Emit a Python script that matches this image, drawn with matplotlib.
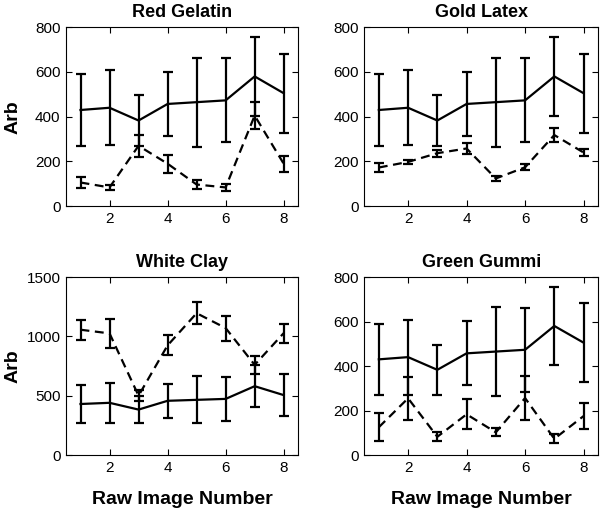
import matplotlib
matplotlib.use("Agg")
import matplotlib.pyplot as plt
import numpy as np

plt.rcParams['font.family'] = ['Liberation Sans', 'DejaVu Sans']

x = [1, 2, 3, 4, 5, 6, 7, 8]

# reference (solid) series, same in all panels
ref_mean = [430, 440, 383, 457, 465, 473, 580, 505]
ref_err = [160, 168, 113, 144, 199, 188, 177, 177]

titles = ["Red Gelatin", "Gold Latex", "White Clay", "Green Gummi"]

red_mean = [106, 84, 270, 190, 97, 84, 405, 190]
red_err = [23, 13, 48, 41, 20, 15, 60, 36]

gold_mean = [173, 198, 237, 258, 124, 174, 318, 240]
gold_err = [18, 10, 16, 23, 12, 13, 30, 15]

white_mean = [1056, 1025, 500, 924, 1195, 1070, 760, 1027]
white_err = [84, 124, 45, 84, 92, 105, 75, 80]

green_mean = [125, 255, 82, 183, 102, 256, 73, 175]
green_err = [62, 97, 21, 68, 18, 100, 21, 58]

dashed_means = [red_mean, gold_mean, white_mean, green_mean]
dashed_errs = [red_err, gold_err, white_err, green_err]

yticks_std = [0, 200, 400, 600, 800]
yticks_white = [0, 500, 1000, 1500]
xticks = [2, 4, 6, 8]

fig = plt.figure(figsize=(6.0, 5.13), dpi=100)
positions = [
    [0.110, 0.598, 0.387, 0.349],
    [0.607, 0.598, 0.390, 0.349],
    [0.110, 0.113, 0.387, 0.347],
    [0.607, 0.113, 0.390, 0.347],
]

for i in range(4):
    ax = fig.add_axes(positions[i])
    ax.errorbar(x, ref_mean, yerr=ref_err, color='black', lw=1.6,
                elinewidth=1.6, capsize=3.5, capthick=1.6)
    ax.errorbar(x, dashed_means[i], yerr=dashed_errs[i], color='black', lw=1.6,
                ls=(0, (4, 2.5)), elinewidth=1.6, capsize=3.5, capthick=1.6)
    ax.set_xlim(0.5, 8.5)
    if i == 2:
        ax.set_ylim(0, 1500)
        ax.set_yticks(yticks_white)
    else:
        ax.set_ylim(0, 800)
        ax.set_yticks(yticks_std)
    ax.set_xticks(xticks)
    ax.tick_params(direction='in', top=True, right=True, length=4,
                   labelsize=11, width=0.8, pad=4)
    for s in ax.spines.values():
        s.set_linewidth(0.8)
    ax.set_title(titles[i], fontsize=13, fontweight='bold', pad=7)
    if i in (0, 2):
        ax.set_ylabel("Arb", fontsize=14, fontweight='bold', va='center')
        ax.yaxis.set_label_coords(-0.23, 0.5)
    if i in (2, 3):
        ax.set_xlabel("Raw Image Number", fontsize=14, fontweight='bold', va='center')
        ax.xaxis.set_label_coords(0.5, -0.25)

fig.savefig("out.png", dpi=100)
